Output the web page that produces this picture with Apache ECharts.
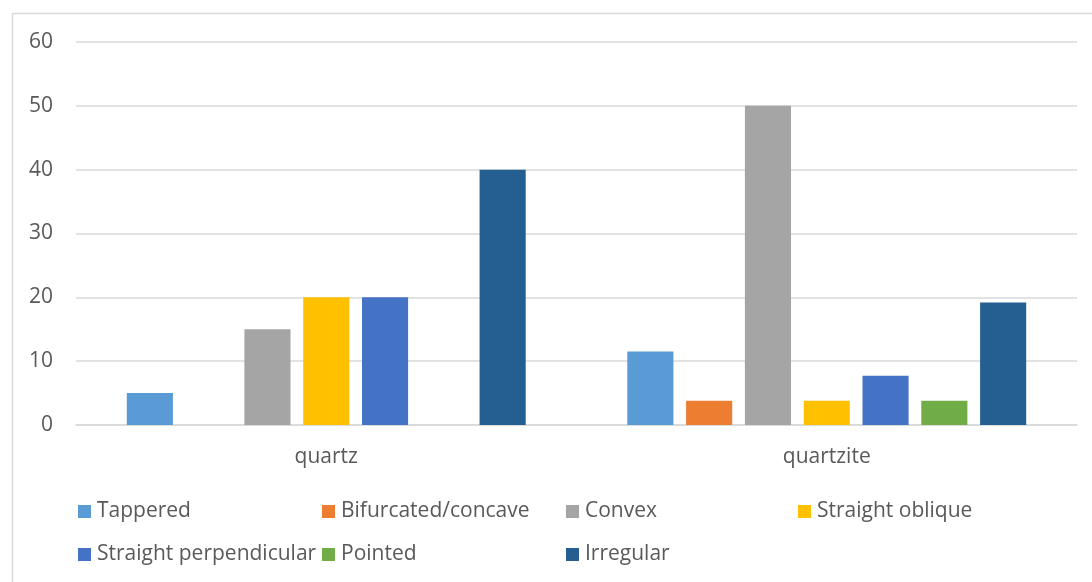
<!DOCTYPE html>
<html><head><meta charset="utf-8">
<script src="https://cdn.jsdelivr.net/npm/echarts@6/dist/echarts.min.js"></script>
<style>html,body{margin:0;padding:0;background:#fff}#c{width:1092px;height:582px}</style>
</head><body><div id="c"></div>
<script>
const categories = ['quartz', 'quartzite'];
const seriesNames = ['Tappered', 'Bifurcated/concave', 'Convex', 'Straight oblique', 'Straight perpendicular', 'Pointed', 'Irregular'];
const tappered = [5, 11.5];
const bifurcated = [0, 3.8];
const convex = [15, 50];
const straightOblique = [20, 3.8];
const straightPerpendicular = [20, 7.7];
const pointed = [0, 3.8];
const irregular = [40, 19.2];
const colors = ['#5B9BD5', '#ED7D31', '#A5A5A5', '#FFC000', '#4472C4', '#70AD47', '#255E91'];
const values = [tappered, bifurcated, convex, straightOblique, straightPerpendicular, pointed, irregular];

const legendPos = [[78, 501], [322, 501], [566, 501], [798, 501], [78, 544], [322, 544], [566, 544]];
const textStyle = {color: '#595959', fontFamily: 'Open Sans', fontSize: 21};

const chart = echarts.init(document.getElementById('c'), null, {renderer: 'canvas'});
chart.setOption({
  animation: false,
  color: colors,
  graphic: [{type: 'rect', shape: {x: 12.5, y: 13.5, width: 1200, height: 700}, style: {fill: 'none', stroke: '#d9d9d9', lineWidth: 1.5}, silent: true}],
  grid: {left: 76, right: 15, top: 42, bottom: 157},
  legend: seriesNames.map((n, i) => ({
    data: [n], left: legendPos[i][0], top: legendPos[i][1], itemWidth: 13, itemHeight: 13, itemGap: 0,
    icon: 'rect', textStyle: Object.assign({padding: [0, 0, 0, 1]}, textStyle), padding: 0
  })),
  xAxis: {
    type: 'category', data: categories,
    axisLine: {lineStyle: {color: '#d9d9d9', width: 1.5}},
    axisTick: {show: false},
    axisLabel: Object.assign({margin: 22}, textStyle)
  },
  yAxis: {
    type: 'value', min: 0, max: 60, interval: 10,
    axisLine: {show: false}, axisTick: {show: false},
    splitLine: {lineStyle: {color: '#d9d9d9', width: 1.5}},
    axisLabel: Object.assign({margin: 23}, textStyle)
  },
  series: seriesNames.map((n, i) => ({
    name: n, type: 'bar', data: values[i],
    barGap: '27.5%', barCategoryGap: '20.3%',
    itemStyle: {color: colors[i]}
  }))
});
</script></body></html>
